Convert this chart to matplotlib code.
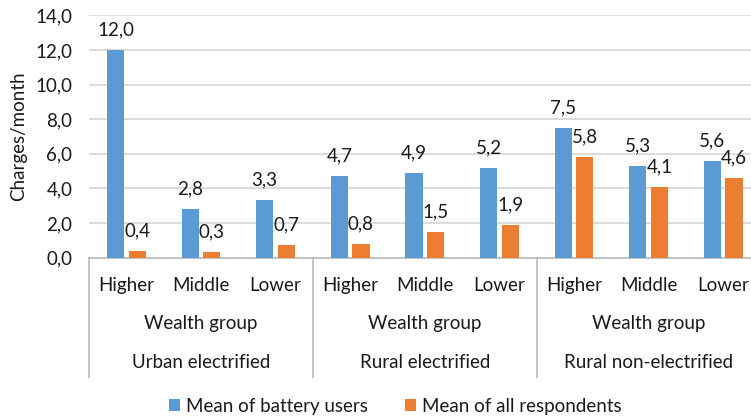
import matplotlib
matplotlib.use("Agg")
import matplotlib.pyplot as plt
from matplotlib.ticker import FuncFormatter, MultipleLocator
from matplotlib.transforms import blended_transform_factory
import numpy as np

plt.rcParams['font.family'] = ['Lato', 'DejaVu Sans']

groups = ["Urban electrified", "Rural electrified", "Rural non-electrified"]
subgroup_title = "Wealth group"
categories = ["Higher", "Middle", "Lower"]
battery_users = [12.0, 2.8, 3.3, 4.7, 4.9, 5.2, 7.5, 5.3, 5.6]
all_respondents = [0.4, 0.3, 0.7, 0.8, 1.5, 1.9, 5.8, 4.1, 4.6]
series_names = ["Mean of battery users", "Mean of all respondents"]
y_label = "Charges/month"

BLUE = "#5B9BD5"
ORANGE = "#ED7D31"
GRID = "#D9D9D9"
AXIS = "#BFBFBF"
TXT = "#1A1A1A"
FS = 13.5

W, H = 751, 419
fig = plt.figure(figsize=(W / 100, H / 100), dpi=100)
x0, x1 = 89, 760.5
y0, y1 = 257.5, 15.3
ax = fig.add_axes([x0 / W, 1 - y0 / H, (x1 - x0) / W, (y0 - y1) / H])

n = len(battery_users)
x = np.arange(n)
bw = 0.23
off = 0.145
b1 = ax.bar(x - off, battery_users, bw, color=BLUE, label=series_names[0], zorder=3)
b2 = ax.bar(x + off, all_respondents, bw, color=ORANGE, label=series_names[1], zorder=3)

def fmt(v):
    return f"{v:.1f}".replace(".", ",")

for bars, vals in ((b1, battery_users), (b2, all_respondents)):
    for r, v in zip(bars, vals):
        ax.annotate(fmt(v), (r.get_x() + r.get_width() / 2, v), xytext=(0, 14.5),
                    textcoords="offset points", ha="center", va="center",
                    fontsize=FS, color=TXT, zorder=4)

ax.set_xlim(-0.5, n - 0.5)
ax.set_ylim(0, 14)
ax.yaxis.set_major_locator(MultipleLocator(2))
ax.yaxis.set_major_formatter(FuncFormatter(lambda v, p: fmt(v)))
ax.grid(axis="y", color=GRID, linewidth=1.3, zorder=0)
ax.set_axisbelow(True)
for s in ("top", "right", "left"):
    ax.spines[s].set_visible(False)
ax.spines["bottom"].set_color(AXIS)
ax.spines["bottom"].set_linewidth(1.3)
ax.set_xticks([])
ax.tick_params(axis="y", length=0, pad=12, labelsize=FS, labelcolor=TXT)
ax.set_ylabel(y_label, fontsize=FS, color=TXT, labelpad=6)

tr = blended_transform_factory(ax.transData, fig.transFigure)
for i in range(n):
    ax.text(x[i], 1 - 285 / H, categories[i % 3], transform=tr, ha="center", va="center",
            fontsize=FS, color=TXT)
for g, name in enumerate(groups):
    c = g * 3 + 1
    ax.text(c, 1 - 324 / H, subgroup_title, transform=tr, ha="center", va="center",
            fontsize=FS, color=TXT)
    ax.text(c, 1 - 362.5 / H, name, transform=tr, ha="center", va="center",
            fontsize=FS, color=TXT)
for sx in (-0.5, 2.5, 5.5, 8.5):
    ax.plot([sx, sx], [1 - y0 / H, 1 - 377 / H], transform=tr, color=AXIS,
            linewidth=1.3, clip_on=False)

fig.legend(handles=[b1, b2], labels=series_names, loc="center",
           bbox_to_anchor=(395 / W, 1 - 406 / H), ncol=2, frameon=False,
           fontsize=FS, handlelength=0.6, handleheight=0.6, handletextpad=0.3,
           columnspacing=2.0, labelcolor=TXT)

fig.savefig("out.png", dpi=100)
